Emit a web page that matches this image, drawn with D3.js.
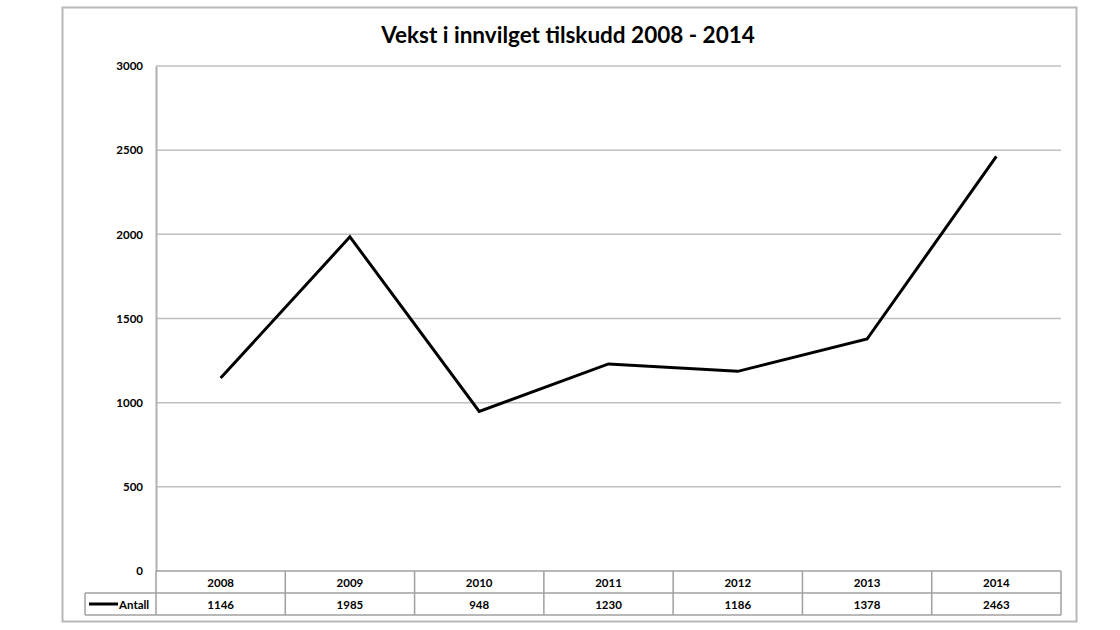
<!DOCTYPE html>
<html><head><meta charset="utf-8">
<script src="https://cdn.jsdelivr.net/npm/d3@7"></script>
<style>body{margin:0;background:#fff}svg{display:block}text{font-family:Lato,"Open Sans",sans-serif}</style>
</head><body>
<svg id="c" width="1120" height="630"></svg>
<script>
const years = ["2008","2009","2010","2011","2012","2013","2014"];
const antall = [1146,1985,948,1230,1186,1378,2463];
const yTicks = [0,500,1000,1500,2000,2500,3000];
const seriesName = "Antall";
const title = "Vekst i innvilget tilskudd 2008 - 2014";

const svg = d3.select("#c");
const L = 156, R = 1061, T = 66, B = 571;
const rowH = 22;

svg.append("rect").attr("x",62.5).attr("y",7.5).attr("width",1014).attr("height",614)
  .attr("fill","#fff").attr("stroke","#b8b8b8").attr("stroke-width",2);

svg.append("text").attr("x",568).attr("y",43).attr("text-anchor","middle")
  .attr("font-size",22.5).attr("font-weight","bold").attr("fill","#000").text(title);

const x = d3.scaleBand().domain(years).range([L,R]);
const y = d3.scaleLinear().domain([0,3000]).range([B,T]);

// gridlines
svg.append("g").selectAll("line").data(yTicks.filter(d=>d>0)).join("line")
  .attr("x1",L).attr("x2",R).attr("y1",d=>y(d)).attr("y2",d=>y(d))
  .attr("stroke","#c0c0c0").attr("stroke-width",1.5);

// y axis
const ya = svg.append("g").attr("transform",`translate(${L},0)`)
  .call(d3.axisLeft(y).tickValues(yTicks).tickFormat(d3.format("d")).tickSize(0).tickPadding(13));
ya.select(".domain").attr("stroke","#b0b0b0").attr("stroke-width",2);
ya.selectAll("text").attr("font-size",11.5).attr("font-weight","bold").attr("fill","#000")
  .attr("font-family","Lato,'Open Sans',sans-serif");

// data table
const tg = svg.append("g").attr("stroke","#a0a0a0").attr("stroke-width",1.5).attr("fill","none");
tg.append("line").attr("x1",L).attr("x2",R).attr("y1",B).attr("y2",B);
tg.append("line").attr("x1",85).attr("x2",R).attr("y1",B+rowH).attr("y2",B+rowH);
tg.append("line").attr("x1",85).attr("x2",R).attr("y1",B+2*rowH).attr("y2",B+2*rowH);
tg.append("line").attr("x1",85).attr("x2",85).attr("y1",B+rowH).attr("y2",B+2*rowH);
tg.append("line").attr("x1",L).attr("x2",L).attr("y1",B).attr("y2",B+2*rowH);
tg.selectAll("line.col").data(years).join("line").attr("class","col")
  .attr("x1",d=>x(d)+x.bandwidth()).attr("x2",d=>x(d)+x.bandwidth())
  .attr("y1",B).attr("y2",B+2*rowH);

svg.append("g").selectAll("text").data(years).join("text")
  .attr("x",d=>x(d)+x.bandwidth()/2).attr("y",B+15.5).attr("text-anchor","middle")
  .attr("font-size",11.5).attr("font-weight","bold").attr("fill","#000").text(d=>d);
svg.append("g").selectAll("text").data(antall).join("text")
  .attr("x",(d,i)=>x(years[i])+x.bandwidth()/2).attr("y",B+rowH+15.5).attr("text-anchor","middle")
  .attr("font-size",11.5).attr("font-weight","bold").attr("fill","#000").text(d=>d);

// legend key
svg.append("line").attr("x1",89).attr("x2",118).attr("y1",B+rowH+11).attr("y2",B+rowH+11)
  .attr("stroke","#000").attr("stroke-width",3);
svg.append("text").attr("x",119).attr("y",B+rowH+15.5).attr("font-size",11.5)
  .attr("font-weight","bold").attr("fill","#000").text(seriesName);

// line
const line = d3.line().x((d,i)=>x(years[i])+x.bandwidth()/2).y(d=>y(d));
svg.append("path").datum(antall).attr("d",line).attr("fill","none")
  .attr("stroke","#000").attr("stroke-width",3).attr("stroke-linejoin","miter");
</script>
</body></html>
